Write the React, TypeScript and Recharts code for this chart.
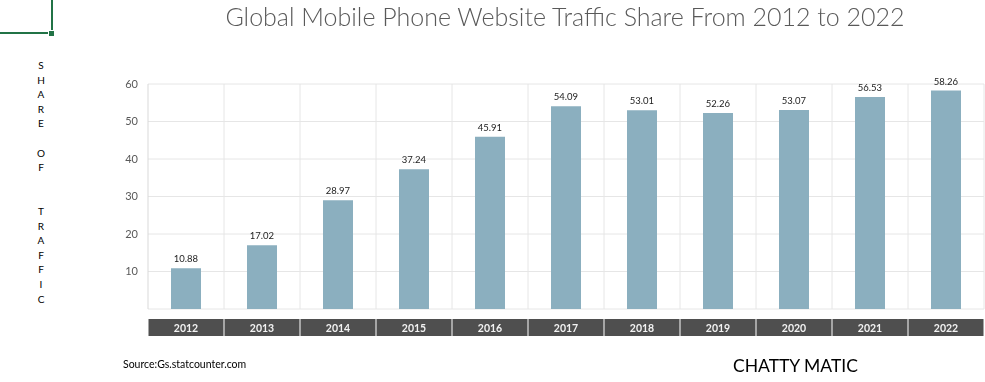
import React from "react";
import { Bar, BarChart, CartesianGrid, LabelList, XAxis, YAxis } from "recharts";

const YEARS = ["2012", "2013", "2014", "2015", "2016", "2017", "2018", "2019", "2020", "2021", "2022"];
const SHARE = [10.88, 17.02, 28.97, 37.24, 45.91, 54.09, 53.01, 52.26, 53.07, 56.53, 58.26];
const Y_TICKS = [10, 20, 30, 40, 50, 60];
const SIDE_LETTERS = ["S", "H", "A", "R", "E", "", "O", "F", "", "", "T", "R", "A", "F", "F", "I", "C"];

const BAR = "#8BAFBF";
const BOX = "#4F4F4F";
const GRID = "#E6E6E6";
const FONT = "Lato, 'Open Sans', sans-serif";

const data = YEARS.map((y, i) => ({ year: y, share: SHARE[i] }));

function YearTick(props: any) {
  const { x, y, payload } = props;
  return (
    <g>
      <rect x={x - 37.5} y={y + 2} width={75} height={17} fill={BOX} />
      <text x={x} y={y + 14.5} textAnchor="middle" fill="#F2F2F2" fontSize={10.5} fontWeight={700} fontFamily={FONT}>
        {payload.value}
      </text>
    </g>
  );
}

export default function App() {
  return (
    <div style={{ position: "fixed", left: 0, top: 0, width: 985, height: 382, background: "#fff", fontFamily: FONT }}>
      {/* excel-ish corner marker */}
      <div style={{ position: "absolute", left: 0, top: 32, width: 48, height: 2, background: "#217346" }} />
      <div style={{ position: "absolute", left: 51, top: 0, width: 2, height: 30, background: "#217346" }} />
      <div style={{ position: "absolute", left: 49, top: 31, width: 5, height: 5, background: "#217346" }} />

      <div
        style={{
          position: "absolute",
          left: 0,
          top: 1,
          width: 1130,
          textAlign: "center",
          fontSize: 25,
          fontWeight: 300,
          color: "#595959",
          whiteSpace: "nowrap",
        }}
      >
        Global Mobile Phone Website Traffic Share From 2012 to 2022
      </div>

      <div style={{ position: "absolute", left: 34, top: 58, width: 14, textAlign: "center", fontSize: 10, lineHeight: "14.6px", color: "#000" }}>
        {SIDE_LETTERS.map((l, i) => (
          <div key={i} style={{ height: 14.6 }}>{l}</div>
        ))}
      </div>

      <BarChart
        width={985}
        height={382}
        data={data}
        margin={{ top: 84, right: 1, left: 0, bottom: 0 }}
        barCategoryGap={0}
        style={{ position: "absolute", left: 0, top: 0 }}
      >
        <CartesianGrid
          stroke={GRID}
          verticalCoordinatesGenerator={({ offset }: any) =>
            YEARS.map((_, i) => offset.left + ((i + 1) * offset.width) / YEARS.length)
          }
        />
        <XAxis dataKey="year" axisLine={false} tickLine={false} tick={<YearTick />} interval={0} height={73} />
        <YAxis
          domain={[0, 60]}
          ticks={Y_TICKS}
          width={148}
          tickSize={0}
          tickMargin={10}
          axisLine={{ stroke: "#D9D9D9" }}
          tickLine={false}
          tick={{ fontSize: 11, fill: "#595959", fontFamily: FONT }}
        />
        <Bar dataKey="share" fill={BAR} barSize={30} isAnimationActive={false}>
          <LabelList dataKey="share" position="top" offset={6} fontSize={9.5} fill="#222" fontFamily={FONT} />
        </Bar>
      </BarChart>

      <div style={{ position: "absolute", left: 123, top: 358, fontSize: 10.5, color: "#000" }}>Source:Gs.statcounter.com</div>
      <div style={{ position: "absolute", left: 733, top: 355, fontSize: 17.5, color: "#000" }}>CHATTY MATIC</div>
    </div>
  );
}
